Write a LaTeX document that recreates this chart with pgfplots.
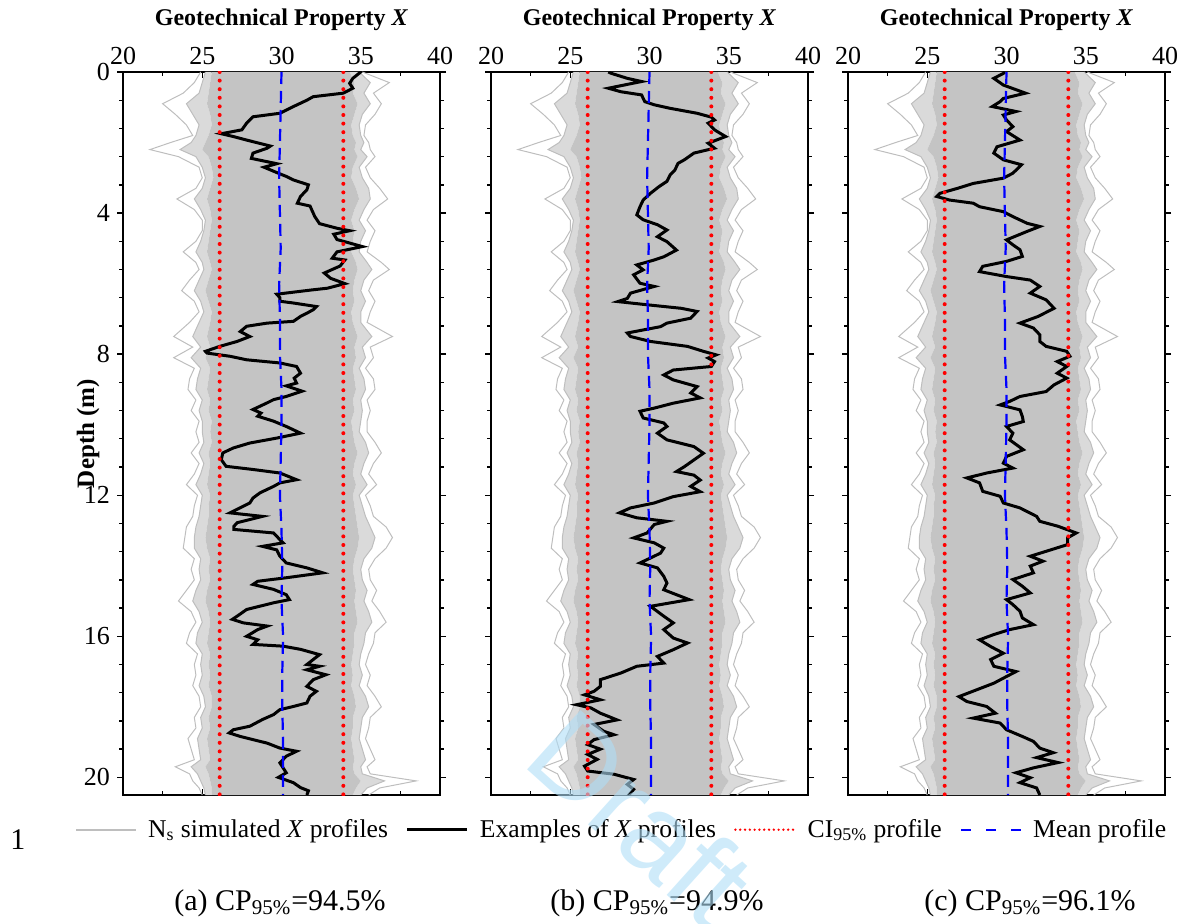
\documentclass[border=0pt]{standalone}
\usepackage{fontspec}
\setmainfont{Liberation Serif}
\newfontfamily\wmfont{Liberation Sans}
\usepackage{pgfplots}
\usepackage{pgfplotstable}
\pgfplotsset{compat=1.18}
\usepgfplotslibrary{fillbetween}

\definecolor{simgray}{RGB}{190,190,190}
\definecolor{coregray}{RGB}{196,196,196}
\definecolor{midgray}{RGB}{218,218,218}
\definecolor{wmblue}{RGB}{175,222,247}

\pgfplotstableread{
d L L2 l r R2 R
0.0 24.9 25.2 25.6 34.3 34.9 35.1
0.3 24.5 25.0 25.5 34.6 35.6 36.8
0.6 23.8 24.8 25.4 34.5 35.2 35.8
0.9 22.5 24.0 25.3 34.8 35.6 36.3
1.2 23.3 24.4 25.5 34.6 35.1 35.9
1.5 24.0 24.8 25.6 34.4 34.9 35.3
1.8 24.4 24.6 25.4 34.5 35.0 35.2
2.0 23.0 24.3 25.2 34.7 35.2 35.5
2.2 21.7 23.6 25.0 34.6 35.0 35.6
2.4 23.5 24.6 25.4 34.8 35.4 35.9
2.7 24.8 25.0 25.6 34.5 34.9 35.3
3.0 25.0 25.2 25.7 34.4 35.1 35.6
3.3 24.6 25.0 25.5 34.7 35.5 36.2
3.6 23.4 24.5 25.3 34.9 35.6 36.7
3.9 24.5 24.9 25.5 34.6 35.2 35.8
4.2 25.0 25.2 25.6 34.4 34.9 35.4
4.5 25.0 25.1 25.5 34.6 35.3 35.9
4.8 24.6 24.9 25.4 34.5 35.0 35.6
5.1 23.8 24.6 25.3 34.4 34.9 35.4
5.4 24.6 25.0 25.5 34.7 35.4 36.3
5.6 24.8 25.1 25.6 34.8 35.7 36.8
5.9 24.2 24.8 25.4 34.6 35.2 35.8
6.2 23.7 24.5 25.2 34.5 35.0 35.5
6.5 24.5 24.9 25.4 34.6 35.3 35.9
6.8 24.8 25.1 25.6 34.4 35.0 35.6
7.1 24.2 24.8 25.5 34.5 35.0 35.4
7.5 23.2 24.4 25.3 34.8 35.7 37.0
7.8 24.4 24.9 25.5 34.6 35.1 35.6
8.1 23.2 24.3 25.2 34.7 35.3 35.8
8.4 24.5 24.9 25.5 34.5 34.9 35.3
8.7 24.2 24.7 25.4 34.6 35.2 35.8
9.0 24.1 24.6 25.3 34.7 35.3 35.9
9.3 24.6 25.0 25.5 34.5 35.0 35.4
9.6 24.3 24.8 25.4 34.6 35.1 35.6
9.9 24.8 25.0 25.6 34.4 35.0 35.4
10.2 24.6 25.0 25.5 34.5 34.9 35.4
10.5 24.8 25.1 25.6 34.6 35.3 35.9
10.8 24.3 24.8 25.4 34.8 35.5 36.3
11.1 24.8 25.1 25.5 34.6 35.2 35.8
11.4 24.5 24.9 25.4 34.5 35.0 35.5
11.7 24.0 24.6 25.3 34.7 35.4 36.0
12.0 24.7 25.0 25.5 34.5 34.9 35.3
12.3 24.5 24.9 25.4 34.6 35.1 35.6
12.6 24.4 24.8 25.4 34.7 35.3 35.8
12.9 24.0 24.6 25.3 34.8 35.6 36.6
13.2 23.9 24.5 25.2 34.9 35.9 37.0
13.5 23.8 24.5 25.3 34.8 35.7 36.6
13.8 24.5 24.9 25.5 34.6 35.2 35.9
14.1 24.3 24.8 25.4 34.5 35.0 35.5
14.4 24.5 24.9 25.5 34.6 35.1 35.6
14.7 24.0 24.6 25.3 34.7 35.4 36.0
15.0 23.5 24.4 25.2 34.6 35.2 35.7
15.3 24.3 24.8 25.4 34.7 35.5 36.2
15.6 24.6 25.0 25.5 34.8 35.7 36.6
15.9 24.2 24.7 25.4 34.6 35.3 35.9
16.2 24.0 24.6 25.3 34.6 35.2 35.8
16.5 24.7 25.0 25.5 34.5 35.0 35.5
16.8 24.5 24.9 25.4 34.4 34.9 35.3
17.1 24.6 25.0 25.5 34.5 35.1 35.6
17.4 24.4 24.8 25.4 34.4 34.9 35.4
17.7 24.8 25.1 25.6 34.6 35.3 35.9
18.0 24.9 25.2 25.6 34.7 35.5 36.3
18.3 24.5 24.9 25.4 34.5 35.1 35.6
18.6 24.6 25.0 25.5 34.5 35.0 35.5
18.9 24.1 24.7 25.3 34.4 34.9 35.3
19.2 24.3 24.8 25.4 34.5 35.1 35.6
19.5 24.5 24.9 25.5 34.6 35.3 35.9
19.7 23.3 24.3 25.2 34.5 35.0 35.4
19.9 24.2 24.7 25.4 34.6 35.1 35.6
20.1 24.4 24.9 25.5 35.0 36.5 38.5
20.3 24.8 25.1 25.6 34.7 35.4 36.2
20.5 25.0 25.2 25.6 34.5 35.0 35.5
}\simtab

\pgfplotstableread{
d x
0.0 35.0
0.18 34.5
0.32 34.3
0.46 34.5
0.6 33.9
0.7 32.0
0.8 31.6
0.98 30.75
1.17 29.9
1.27 28.2
1.45 27.8
1.64 27.5
1.75 26.2
1.83 26.96
1.93 27.8
2.1 29.3
2.16 29.1
2.3 28.2
2.45 28.1
2.6 29.7
2.7 28.9
2.87 29.8
2.96 30.3
3.06 30.75
3.2 31.7
3.34 31.6
3.53 31.2
3.72 31.0
3.8 31.8
4.1 32.1
4.3 32.4
4.43 33.5
4.5 34.3
4.6 33.3
4.75 33.5
4.95 35.1
5.1 33.5
5.28 33.2
5.33 34.0
5.5 33.7
5.7 32.7
5.85 33.1
6.0 34.0
6.13 32.9
6.18 31.9
6.3 29.7
6.4 29.9
6.5 29.9
6.55 30.75
6.65 32.2
6.74 32.0
6.84 31.6
6.93 31.2
7.07 30.75
7.12 29.1
7.21 27.8
7.36 27.4
7.5 28.0
7.64 27.2
7.78 26.1
7.92 25.2
7.97 25.3
8.06 26.75
8.16 27.8
8.25 29.9
8.35 30.95
8.54 31.2
8.68 30.8
8.82 30.95
8.9 30.3
9.05 31.3
9.2 30.3
9.29 29.5
9.38 29.1
9.57 28.2
9.67 28.7
9.76 28.5
9.9 29.5
10.05 30.3
10.24 31.2
10.38 29.7
10.52 28.0
10.66 26.96
10.8 26.3
10.99 26.2
11.18 26.5
11.27 28.2
11.37 29.9
11.56 30.95
11.65 29.9
11.75 29.5
11.93 28.65
12.08 28.2
12.22 28.0
12.5 26.75
12.6 28.8
12.78 27.2
12.88 27.0
12.97 27.0
13.07 29.5
13.26 29.9
13.35 30.1
13.45 28.8
13.55 29.7
13.73 29.9
13.92 30.3
14.06 31.6
14.2 32.6
14.34 30.3
14.44 28.5
14.53 28.2
14.67 29.5
14.82 30.3
14.96 30.5
15.05 29.5
15.24 27.8
15.43 27.2
15.52 26.9
15.62 27.6
15.71 29.1
15.81 28.5
16.0 27.8
16.1 28.5
16.23 28.2
16.28 30.1
16.37 31.2
16.52 32.4
16.66 32.0
16.8 31.6
16.85 32.4
16.95 31.6
17.09 32.8
17.23 32.0
17.42 31.6
17.56 32.2
17.7 31.8
17.89 31.6
17.99 30.75
18.08 29.9
18.22 29.5
18.36 28.8
18.55 28.0
18.65 26.96
18.74 26.7
18.84 27.4
19.03 29.1
19.17 29.9
19.26 30.95
19.4 30.3
19.59 29.9
19.73 30.1
19.87 30.3
20.0 29.8
20.15 30.75
20.29 31.2
20.38 31.7
20.5 31.6
}\exA

\pgfplotstableread{
d x
0.0 27.4
0.04 27.6
0.18 28.6
0.27 29.5
0.37 28.4
0.46 27.4
0.56 28.2
0.65 29.5
0.84 29.7
0.93 30.3
1.03 31.3
1.17 33.0
1.28 33.9
1.36 34.1
1.45 33.7
1.64 34.1
1.83 34.8
2.02 33.7
2.16 34.1
2.3 32.8
2.49 32.2
2.59 31.8
2.78 31.6
2.92 31.3
3.1 31.1
3.25 30.6
3.44 30.06
3.63 29.6
3.82 29.4
4.05 29.2
4.19 29.6
4.33 30.5
4.48 31.1
4.67 30.5
4.81 31.1
5.05 31.7
5.24 30.9
5.33 30.3
5.47 29.2
5.61 29.6
5.75 29.0
5.99 29.4
6.08 30.3
6.27 28.8
6.42 28.6
6.51 28.0
6.6 29.85
6.7 32.0
6.79 33.0
6.98 32.6
7.12 31.1
7.22 30.7
7.4 28.6
7.5 28.8
7.64 30.06
7.78 32.4
7.92 33.4
8.02 34.2
8.11 33.7
8.21 34.1
8.35 33.9
8.45 31.5
8.59 30.9
8.73 31.5
8.92 33.0
9.1 32.6
9.24 33.2
9.39 31.5
9.53 30.3
9.62 29.4
9.81 29.6
9.95 30.9
10.05 31.1
10.24 30.5
10.43 31.1
10.62 32.8
10.81 33.4
11.0 32.8
11.19 32.2
11.33 31.7
11.43 32.8
11.57 33.2
11.75 32.6
11.9 33.2
12.04 31.5
12.22 30.3
12.36 28.8
12.5 28.1
12.64 29.2
12.74 31.1
12.83 30.3
13.07 29.85
13.21 29.0
13.35 30.3
13.5 30.9
13.64 30.7
13.78 30.06
13.92 29.4
14.06 30.5
14.3 30.9
14.49 31.1
14.68 30.9
14.96 32.5
15.15 30.06
15.43 30.9
15.62 31.5
15.81 30.9
16.05 31.5
16.19 32.4
16.38 31.5
16.57 30.5
16.76 30.9
16.85 29.2
17.04 28.2
17.23 26.9
17.42 26.9
17.56 26.5
17.66 25.9
17.8 26.9
17.94 25.4
18.03 26.3
18.18 26.9
18.37 27.95
18.5 26.5
18.69 27.1
18.79 27.75
18.93 26.5
19.07 26.1
19.2 26.9
19.35 26.1
19.49 26.7
19.68 25.9
19.82 26.1
19.91 27.75
20.06 29.0
20.2 28.6
20.34 29.0
20.6 28.5
}\exB

\pgfplotstableread{
d x
0.0 29.9
0.04 29.8
0.18 29.2
0.37 29.8
0.6 31.2
0.75 29.8
0.84 29.6
0.98 29.1
1.12 30.6
1.22 29.8
1.36 30.0
1.55 30.4
1.69 30.0
1.93 30.85
2.12 29.4
2.3 29.2
2.49 29.8
2.63 30.95
2.87 30.4
3.01 29.8
3.16 27.9
3.3 26.9
3.44 25.8
3.53 25.6
3.63 26.4
3.72 27.9
3.82 28.3
3.96 29.8
4.1 30.4
4.29 31.3
4.38 32.1
4.52 31.3
4.76 30.0
4.9 30.4
5.04 30.85
5.23 31.0
5.37 30.0
5.51 28.5
5.66 28.3
5.8 30.0
5.9 31.5
6.08 32.1
6.27 31.5
6.46 32.5
6.7 33.0
6.93 32.0
7.12 30.85
7.26 31.7
7.45 32.1
7.64 32.1
7.78 32.5
7.92 33.8
8.06 34.0
8.21 33.2
8.35 33.8
8.54 33.2
8.68 33.8
8.87 33.0
9.06 32.5
9.2 30.85
9.34 30.2
9.44 29.6
9.58 30.85
9.77 31.0
9.91 31.06
10.05 30.0
10.24 30.4
10.43 30.2
10.71 31.06
10.9 30.0
11.09 29.8
11.23 30.4
11.37 28.75
11.51 27.5
11.65 28.3
11.89 28.5
12.03 29.6
12.22 29.8
12.36 30.85
12.6 31.9
12.74 32.1
12.88 33.25
13.07 34.4
13.21 33.85
13.4 33.85
13.59 32.5
13.73 31.5
13.87 32.3
14.01 31.5
14.2 31.7
14.39 30.4
14.58 31.0
14.77 31.5
14.96 30.0
15.1 30.4
15.29 30.85
15.48 31.0
15.67 31.7
15.81 30.2
15.95 29.2
16.1 28.3
16.29 29.0
16.48 29.8
16.66 29.0
16.85 29.2
17.0 30.6
17.14 30.0
17.33 29.2
17.52 28.1
17.71 27.0
17.85 27.5
17.99 28.75
18.18 29.3
18.32 27.9
18.46 29.6
18.65 30.0
18.84 31.0
18.98 31.7
19.17 32.1
19.3 32.95
19.44 31.9
19.58 33.25
19.73 31.7
19.87 30.6
20.01 31.5
20.15 30.85
20.3 31.9
20.5 32.1
}\exC

\pgfplotstableread{
d x
0 30.0
1 29.95
2 29.9
3 29.85
4 29.9
5 29.95
6 29.85
7 29.9
8 29.9
9 30.0
10 30.0
11 29.95
12 29.9
13 30.0
14 30.05
15 30.0
16 30.1
17 30.05
18 30.05
19 30.1
20 30.1
20.5 30.1
}\meantab

\pgfplotsset{
  panel/.style={
    scale only axis, width=158.5pt, height=361.5pt,
    xmin=20, xmax=40, ymin=0, ymax=20.5, y dir=reverse,
    xtick={20,25,30,35,40}, ytick={0,4,8,12,16,20},
    minor x tick num=1, minor y tick num=4,
    xticklabel pos=upper,
    xtick align=inside, ytick align=outside,
    major tick length=3pt, minor tick length=1.8pt,
    tick style={black, line width=0.7pt},
    axis line style={line width=1.3pt},
    /pgf/number format/assume math mode=true,
    ticklabel style={font=\fontsize{13}{13}\selectfont},
    xlabel={\textbf{Geotechnical Property \textit{X}}},
    xlabel style={font=\fontsize{12}{12}\selectfont, at={(axis description cs:0.5,1)}, anchor=center, yshift=26pt},
  },
}

\newcommand{\drawpanel}[2]{%
  \addplot[draw=none, name path=gL#1, forget plot] table[x=L2,y=d]{\simtab};
  \addplot[draw=none, name path=gl#1, forget plot] table[x=l,y=d]{\simtab};
  \addplot[draw=none, name path=gr#1, forget plot] table[x=r,y=d]{\simtab};
  \addplot[draw=none, name path=gR#1, forget plot] table[x=R2,y=d]{\simtab};
  \addplot[midgray, forget plot] fill between[of=gL#1 and gl#1, reverse=true];
  \addplot[midgray, forget plot] fill between[of=gr#1 and gR#1, reverse=true];
  \addplot[coregray, forget plot] fill between[of=gl#1 and gr#1, reverse=true];
  \addplot[simgray, line width=0.5pt, forget plot] table[x=L,y=d]{\simtab};
  \addplot[simgray, line width=0.5pt, forget plot] table[x=L2,y=d]{\simtab};
  \addplot[simgray, line width=0.5pt, forget plot] table[x=R,y=d]{\simtab};
  \addplot[simgray, line width=0.5pt, forget plot] table[x=R2,y=d]{\simtab};
  \addplot[black, line width=1.5pt, forget plot] table[x=x,y=d]{#2};
  \addplot[red, line width=2pt, dash pattern=on 0pt off 4.3pt, line cap=round, forget plot] coordinates {(26.1,0) (26.1,20.5)};
  \addplot[red, line width=2pt, dash pattern=on 0pt off 4.3pt, line cap=round, forget plot] coordinates {(33.9,0) (33.9,20.5)};
  \addplot[blue, line width=1.1pt, dash pattern=on 6pt off 3.5pt, forget plot] table[x=x,y=d]{\meantab};
}

\begin{document}
\begin{tikzpicture}

\begin{axis}[panel, at={(61.5pt,64pt)}, anchor=south west,
  ylabel={\textbf{Depth (m)}},
  ylabel style={font=\fontsize{12.5}{12.5}\selectfont, at={(axis description cs:-0.11,0.5)}, anchor=center},
  legend columns=4,
  legend style={at={(axis description cs:-0.151,-0.048)}, anchor=west, draw=none, fill=none, inner sep=0pt,
    font=\fontsize{12.8}{12.8}\selectfont,
    /tikz/every odd column/.append style={column sep=3.5pt},
    /tikz/every even column/.append style={column sep=7pt}},
  legend image code/.code={\draw[#1] (0pt,0pt) -- (30pt,0pt);},
]
\drawpanel{a}{\exA}
\addlegendimage{simgray, line width=0.8pt}
\addlegendentry{N\textsubscript{s} simulated \textit{X} profiles}
\addlegendimage{black, line width=1.5pt}
\addlegendentry{Examples of \textit{X} profiles}
\addlegendimage{red, line width=1.3pt, dash pattern=on 0pt off 2.4pt, line cap=round}
\addlegendentry{CI\textsubscript{95\%} profile}
\addlegendimage{blue, line width=1.2pt, dash pattern=on 5pt off 7.5pt}
\addlegendentry{Mean profile}
\end{axis}

\begin{axis}[panel, at={(245.5pt,64pt)}, anchor=south west, yticklabels={}]
\drawpanel{b}{\exB}
\end{axis}

\begin{axis}[panel, at={(424pt,64pt)}, anchor=south west, yticklabels={}]
\drawpanel{c}{\exC}
\end{axis}

\node[font=\fontsize{15}{15}\selectfont] at (9pt,41.5pt) {1};
\node[font=\fontsize{15}{15}\selectfont] at (140pt,10pt) {(a) CP\textsubscript{95\%}=94.5\%};
\node[font=\fontsize{15}{15}\selectfont] at (328.5pt,10pt) {(b) CP\textsubscript{95\%}=94.9\%};
\node[font=\fontsize{15}{15}\selectfont] at (515pt,10pt) {(c) CP\textsubscript{95\%}=96.1\%};

\node[rotate=-42, anchor=base west, inner sep=0pt, font=\wmfont\fontsize{58}{58}\selectfont, text=wmblue, text opacity=0.6] at (260pt,80pt) {Draft};

\pgfresetboundingbox
\path[use as bounding box] (0,0) rectangle (591.5pt,461.5pt);
\end{tikzpicture}
\end{document}
